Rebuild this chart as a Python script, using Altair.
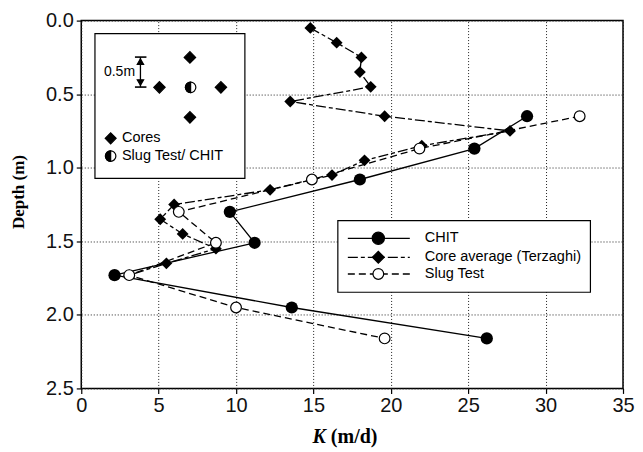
import altair as alt
import pandas as pd

# ---- data ----
core_depth = [0.05, 0.15, 0.25, 0.35, 0.45, 0.55, 0.65, 0.75, 0.85, 0.95,
              1.05, 1.15, 1.25, 1.35, 1.45, 1.55, 1.65, 1.73]
core_k = [14.8, 16.5, 18.1, 18.0, 18.7, 13.5, 19.6, 27.7, 22.0, 18.3,
          16.2, 12.2, 6.0, 5.1, 6.55, 8.7, 5.5, 3.1]

test_depth = [0.65, 0.87, 1.08, 1.30, 1.51, 1.73, 1.95, 2.16]
chit_k = [28.8, 25.4, 18.0, 9.6, 11.2, 2.15, 13.6, 26.2]
slug_k = [32.2, 21.85, 14.9, 6.3, 8.7, 3.1, 10.0, 19.6]

x_ticks = [0, 5, 10, 15, 20, 25, 30, 35]
y_ticks = [0.0, 0.5, 1.0, 1.5, 2.0, 2.5]

legend_labels = ["CHIT", "Core average (Terzaghi)", "Slug Test"]
inset_labels = ["Cores", "Slug Test/ CHIT", "0.5m"]

core_df = pd.DataFrame({"K": core_k, "depth": core_depth})
chit_df = pd.DataFrame({"K": chit_k, "depth": test_depth})
slug_df = pd.DataFrame({"K": slug_k, "depth": test_depth})
dummy = pd.DataFrame({"a": [0]})

W, H = 542, 368
SANS = "Liberation Sans"
SERIF = "Liberation Serif"
HALF = "M0,-1A1,1,0,0,0,0,1Z"

xenc = alt.X("K:Q", scale=alt.Scale(domain=[0, 35], nice=False),
             axis=alt.Axis(values=x_ticks, title=None, format="d"))
yenc = alt.Y("depth:Q", scale=alt.Scale(domain=[0, 2.5], reverse=True, nice=False, zero=False),
             axis=alt.Axis(values=y_ticks, title=None, format=".1f"))


def series_line(df, dash):
    m = alt.Chart(df).mark_line(color="black", strokeWidth=1.3, **({"strokeDash": dash} if dash else {}))
    return m.encode(x=xenc, y=yenc, order=alt.Order("depth:Q"))


core_line = series_line(core_df, [10, 3, 4, 3])
chit_line = series_line(chit_df, None)
slug_line = series_line(slug_df, [7, 4])

core_pts = alt.Chart(core_df).mark_point(shape="diamond", size=140, filled=True,
                                         color="black", opacity=1).encode(x=xenc, y=yenc)
chit_pts = alt.Chart(chit_df).mark_point(shape="circle", size=150, filled=True,
                                         color="black", opacity=1).encode(x=xenc, y=yenc)
slug_pts = alt.Chart(slug_df).mark_point(shape="circle", size=115, filled=True, fill="white",
                                         stroke="black", strokeWidth=1.2, opacity=1).encode(x=xenc, y=yenc)


def box(x1, y1, x2, y2):
    return alt.Chart(dummy).mark_rect(fill="white", stroke="black", strokeWidth=1.2).encode(
        x=alt.value(x1), x2=alt.value(x2), y=alt.value(y1), y2=alt.value(y2))


def hrule(x1, x2, y, dash=None, width=1.3):
    kw = {"strokeDash": dash} if dash else {}
    return alt.Chart(dummy).mark_rule(color="black", strokeWidth=width, **kw).encode(
        x=alt.value(x1), x2=alt.value(x2), y=alt.value(y))


def vrule(x, y1, y2, width=1.3):
    return alt.Chart(dummy).mark_rule(color="black", strokeWidth=width).encode(
        x=alt.value(x), y=alt.value(y1), y2=alt.value(y2))


def sym(x, y, shape, size, fill="black", stroke="black"):
    return alt.Chart(dummy).mark_point(shape=shape, size=size, filled=True, fill=fill,
                                       stroke=stroke, strokeWidth=1.2, opacity=1).encode(
        x=alt.value(x), y=alt.value(y))


def half_circle(x, y, size=110):
    return [sym(x, y, "circle", size, fill="white"), sym(x, y, HALF, size, fill="black", stroke="black")]


def txt(x, y, s, size=14, font=SANS, align="left", weight="normal", style="normal", angle=0):
    kw = {"angle": angle} if angle else {}
    return alt.Chart(dummy).mark_text(text=s, font=font, fontSize=size, align=align, baseline="middle",
                                      fontWeight=weight, fontStyle=style, color="black", **kw).encode(
        x=alt.value(x), y=alt.value(y))


OX, OY = 81.3, 20.5  # plot origin on the page

layers = [core_line, chit_line, slug_line, core_pts, chit_pts, slug_pts]

# ---- inset schematic ----
layers.append(box(95 - OX, 33.5 - OY, 245 - OX, 178.3 - OY))
for (px, py) in [(190, 57.3), (159.5, 87.3), (221, 87.3), (190, 117.3)]:
    layers.append(sym(px - OX, py - OY, "diamond", 130))
layers += half_circle(190.7 - OX, 87.3 - OY)
# bracket with arrows
layers.append(vrule(140.5 - OX, 57 - OY, 87 - OY, width=1.3))
layers.append(hrule(135 - OX, 146.5 - OX, 57 - OY, width=1.6))
layers.append(hrule(135 - OX, 146.5 - OX, 87 - OY, width=1.6))
layers.append(sym(140.5 - OX, 61.5 - OY, "triangle-up", 40))
layers.append(sym(140.5 - OX, 82.5 - OY, "triangle-down", 40))
layers.append(txt(104 - OX, 72 - OY, inset_labels[2], size=14))
layers.append(sym(110.7 - OX, 138.3 - OY, "diamond", 120))
layers.append(txt(122 - OX, 138.3 - OY, inset_labels[0], size=14.5))
layers += half_circle(110.7 - OX, 156 - OY)
layers.append(txt(122 - OX, 156 - OY, inset_labels[1], size=14.5))

# ---- legend ----
layers.append(box(338 - OX, 220.7 - OY, 590.7 - OX, 292.3 - OY))
ly = [238.3 - OY, 257.3 - OY, 274 - OY]
lx1, lx2, lxm, ltx = 348 - OX, 410 - OX, 378.5 - OX, 425 - OX
layers.append(hrule(lx1, lx2, ly[0]))
layers.append(sym(lxm, ly[0], "circle", 150))
layers.append(hrule(lx1, lx2, ly[1], dash=[10, 3, 4, 3]))
layers.append(sym(lxm, ly[1], "diamond", 140))
layers.append(hrule(lx1, lx2, ly[2], dash=[7, 4]))
layers.append(sym(lxm, ly[2], "circle", 115, fill="white"))
for lab, yy in zip(legend_labels, ly):
    layers.append(txt(ltx, yy, lab, size=14.5))

# ---- axis titles ----
layers.append(txt(326 - OX, 437 - OY, "K", size=20, font=SERIF, align="right", weight="bold", style="italic"))
layers.append(txt(331 - OX, 437 - OY, "(m/d)", size=20, font=SERIF, align="left", weight="bold"))
layers.append(txt(19.5 - OX, 192 - OY, "Depth (m)", size=17, font=SERIF, align="center", weight="bold", angle=270))

chart = alt.layer(*layers).properties(
    width=W, height=H, autosize="none",
    padding={"left": 73.3, "top": 12.5, "right": 12, "bottom": 63},
).configure_view(
    stroke="black", strokeWidth=1.5
).configure_axis(
    domain=False, grid=True, gridColor="#222", gridDash=[1, 2], gridWidth=1,
    tickColor="black", tickSize=5, tickWidth=1.2, labelFlush=False,
    labelFont=SANS, labelFontSize=20, labelColor="#111", labelPadding=2,
).configure_axisY(labelPadding=3)

chart.save("out.html", embed_options={"renderer": "svg", "actions": False})
